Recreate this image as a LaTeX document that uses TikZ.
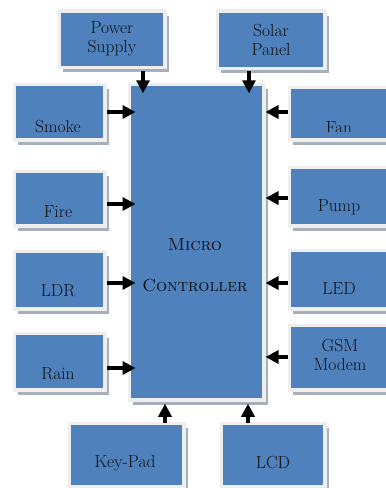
\documentclass[tikz,border=0pt]{standalone}
\usetikzlibrary{arrows.meta,shadows}
\definecolor{bl}{HTML}{4F81BD}
\definecolor{fr}{HTML}{EEEEEE}
\definecolor{sh}{HTML}{A7AFBB}
\definecolor{tx}{HTML}{111111}
\tikzset{
  box/.style={fill=bl, draw=fr, line width=3.5pt, inner sep=0pt, text=tx,
    font=\fontsize{17.5}{19}\selectfont, align=center,
    drop shadow={shadow xshift=4pt, shadow yshift=-5pt, fill=sh, opacity=1}},
  sz/.style 2 args={minimum width=#1pt, minimum height=#2pt},
  lbl/.style={text=tx, font=\fontsize{17.5}{19}\selectfont, inner sep=0pt, align=center},
  arr/.style={line width=4pt, -{Triangle[length=13pt,width=13pt]}, black},
}
\begin{document}
\begin{tikzpicture}[x=1pt,y=-1pt]
\useasboundingbox (0,0) rectangle (386,488);
\clip (0,0) rectangle (386,488);
% top
\node[box, sz={105.5}{56.5}] (ps) at (112,39) {Power\\Supply};
\node[box, sz={107.5}{57.5}] (sp) at (271,39.5) {Solar\\Panel};
% left column
\node[box, sz={90.5}{55.5}, label={[lbl,xshift=-1.5pt,yshift=-15pt]center:Smoke}] (smoke) at (59.5,112) {};
\node[box, sz={90.5}{54.5}, label={[lbl,xshift=-1.5pt,yshift=-13.5pt]center:Fire}] (fire) at (59.5,198.5) {};
\node[box, sz={90.5}{57.5}, label={[lbl,xshift=-1.5pt,yshift=-11pt]center:LDR}] (ldr) at (59.5,280) {};
\node[box, sz={90.5}{56.5}, label={[lbl,xshift=-1.5pt,yshift=-12.5pt]center:Rain}] (rain) at (59.5,361.5) {};
% right column
\node[box, sz={112.5}{52.5}] (fan) at (345.5,113.5) {};
\begin{scope}
  \clip (280,80) rectangle (400,131.5);
  \node[lbl] (fantxt) at (339,127.5) {Fan};
\end{scope}
\node[box, sz={112.5}{58.5}, label={[lbl,xshift=-6.5pt,yshift=-10.5pt]center:Pump}] (pump) at (345.5,196.5) {};
\node[box, sz={112.5}{58.5}, label={[lbl,xshift=-6.5pt,yshift=-9.5pt]center:LED}] (led) at (345.5,279.5) {};
\node[box, sz={112.5}{64.5}, label={[lbl,xshift=-5.5pt,yshift=3pt]center:GSM\\Modem}] (gsm) at (345.5,357.5) {};
% bottom
\node[box, sz={114.5}{63.5}, label={[lbl,xshift=-1.5pt,yshift=-8pt]center:Key-Pad}] (kp) at (126.5,455) {};
\node[box, sz={103.5}{63.5}, label={[lbl,yshift=-8pt]center:LCD}] (lcd) at (273,455) {};
% micro controller
\node[box, sz={134.5}{315.5}] (mcu) at (196.5,242) {};
\node[lbl] (mcutxt) at (195,265) {\textsc{Micro}\\[22pt]\textsc{Controller}};
% arrows
\draw[arr] ([xshift=31pt,yshift=-2pt]ps.south) -- ([xshift=-53.5pt,yshift=-10.75pt]mcu.north);
\draw[arr] ([xshift=-22pt,yshift=-1.25pt]sp.south) -- ([xshift=52.5pt,yshift=-10.75pt]mcu.north);
\draw[arr] ([xshift=0.5pt]smoke.east) -- ([xshift=8pt]smoke.east -| mcu.west);
\draw[arr] ([xshift=0.5pt,yshift=-5.5pt]fire.east) -- ([xshift=8pt,yshift=-5.5pt]fire.east -| mcu.west);
\draw[arr] ([xshift=0.5pt,yshift=-3pt]ldr.east) -- ([xshift=8pt,yshift=-3pt]ldr.east -| mcu.west);
\draw[arr] ([xshift=0.5pt,yshift=-6.5pt]rain.east) -- ([xshift=8pt,yshift=-6.5pt]rain.east -| mcu.west);
\draw[arr] ([yshift=1.5pt]fan.west) -- ([yshift=1.5pt]fan.west -| mcu.east);
\draw[arr] ([yshift=-1.5pt]pump.west) -- ([yshift=-1.5pt]pump.west -| mcu.east);
\draw[arr] ([yshift=-3.5pt]led.west) -- ([yshift=-3.5pt]led.west -| mcu.east);
\draw[arr] ([yshift=0.5pt]gsm.west) -- ([yshift=0.5pt]gsm.west -| mcu.east);
\draw[arr] ([xshift=38.5pt,yshift=-1.75pt]kp.north) -- ([xshift=-31.5pt,yshift=-2.25pt]mcu.south);
\draw[arr] ([xshift=-25pt,yshift=-1.75pt]lcd.north) -- ([xshift=51.5pt,yshift=-2.25pt]mcu.south);
\end{tikzpicture}
\end{document}
